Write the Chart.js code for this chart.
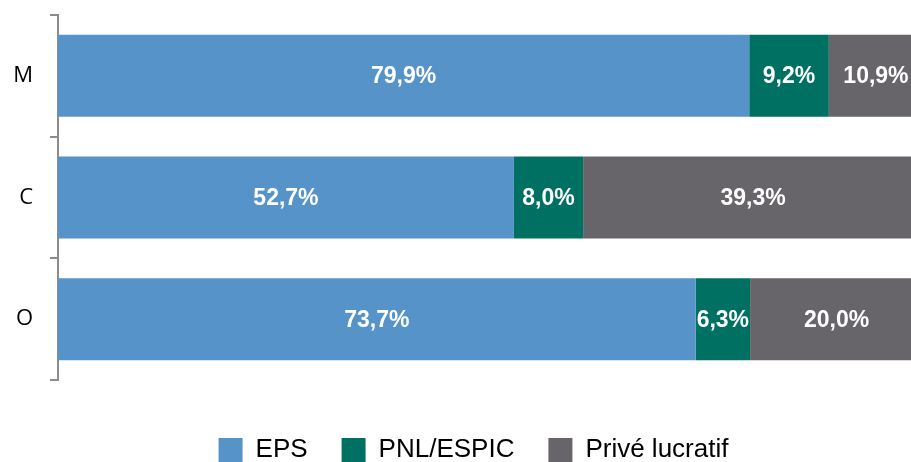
<!DOCTYPE html>
<html>
<head>
<meta charset="utf-8">
<script src="https://cdn.jsdelivr.net/npm/chart.js@4.4.0/dist/chart.umd.min.js"></script>
<style>
  html, body { margin: 0; padding: 0; background: #fff; }
  #wrap { width: 911px; height: 462px; }
</style>
</head>
<body>
<div id="wrap"><canvas id="chart"></canvas></div>
<script>
// Categories and shares (%)
const categories = ["M", "C", "O"];
const eps = [79.9, 52.7, 73.7];
const pnl = [9.2, 8.0, 6.3];
const prive = [10.9, 39.3, 20.0];

// Draw the value labels in the middle of each bar segment
const segmentLabels = {
  id: "segmentLabels",
  afterDatasetsDraw(chart) {
    const ctx = chart.ctx;
    ctx.save();
    ctx.fillStyle = "#fff";
    ctx.font = "bold 23px 'Liberation Sans', Arial, sans-serif";
    ctx.textAlign = "center";
    ctx.textBaseline = "middle";
    chart.data.datasets.forEach((ds, i) => {
      chart.getDatasetMeta(i).data.forEach((bar, j) => {
        const mid = (bar.x + bar.base) / 2;
        ctx.fillText(ds.data[j].toFixed(1).replace(".", ",") + "%", mid, bar.y + 1);
      });
    });
    ctx.restore();
  },
};

// Fixed legend box height, and nudge it a bit to the right like the original
const legendSpace = {
  id: "legendSpace",
  beforeInit(chart) {
    const fit = chart.legend.fit;
    chart.legend.fit = function () {
      fit.bind(chart.legend)();
      this.height = 59;
    };
  },
  afterLayout(chart) {
    chart.legend.left += 36;
  },
};

const ctx = document.getElementById("chart").getContext("2d");
new Chart(ctx, {
  type: "bar",
  data: {
    labels: categories,
    datasets: [
      { label: "EPS", data: eps, backgroundColor: "#5593c8" },
      { label: "PNL/ESPIC", data: pnl, backgroundColor: "#007062" },
      { label: "Privé lucratif", data: prive, backgroundColor: "#68656a" },
    ],
  },
  options: {
    indexAxis: "y",
    responsive: true,
    maintainAspectRatio: false,
    animation: false,
    categoryPercentage: 1,
    barPercentage: 0.674,
    layout: {
      padding: { top: 15, right: 0, left: 0, bottom: 0 },
    },
    plugins: {
      tooltip: { enabled: false },
      legend: {
        position: "bottom",
        labels: {
          color: "#000",
          boxWidth: 24,
          boxHeight: 24,
          padding: 34,
          font: { family: "'Liberation Sans', Arial, sans-serif", size: 26 },
        },
      },
    },
    scales: {
      x: {
        stacked: true,
        min: 0,
        max: 98.6, // the original plot runs a little past the right edge
        border: { display: false },
        grid: { display: false },
        ticks: { display: false },
        afterFit(axis) {
          // empty gap between bars and legend
          axis.height = 23;
        },
      },
      y: {
        stacked: true,
        afterFit(axis) {
          axis.width = 58;
          axis.paddingTop = 0;
          axis.paddingBottom = 0;
        },
        border: { display: true, color: "#8c8c8c", width: 2 },
        grid: {
          offset: true,
          drawOnChartArea: false,
          color: "#8c8c8c",
          lineWidth: 2,
          tickLength: 8,
        },
        ticks: {
          color: "#000",
          padding: 17,
          font: { family: "'Open Sans', sans-serif", size: 22 },
        },
      },
    },
  },
  plugins: [segmentLabels, legendSpace],
});
</script>
</body>
</html>
